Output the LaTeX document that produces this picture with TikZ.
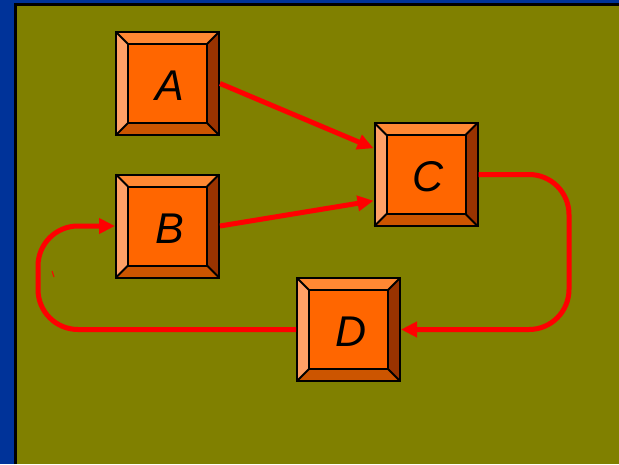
\documentclass[tikz,border=0pt]{standalone}
\usepackage{fontspec}
\setmainfont{Liberation Sans}
\usetikzlibrary{arrows.meta,calc}
\definecolor{bgblue}{HTML}{003399}
\definecolor{olivebg}{HTML}{808000}
\definecolor{keytop}{HTML}{FF8833}
\definecolor{keyleft}{HTML}{FFA066}
\definecolor{keyright}{HTML}{993300}
\definecolor{keybottom}{HTML}{CC5500}
\definecolor{keyface}{HTML}{FF6600}
\definecolor{arrowred}{HTML}{FF0000}
\tikzset{
  keybox/.style={draw=black, line width=2pt, minimum size=103pt, inner sep=0pt},
  keylabel/.style={font=\itshape\fontsize{43}{43}\selectfont, inner sep=0pt},
  bevel/.style={draw=black, line width=2pt, line join=miter},
  flow/.style={draw=arrowred, line width=5pt, rounded corners=40pt,
    -{Triangle[length=16pt,width=15pt]}},
}
\newcommand\keyboxdraw[4]{%
  \begin{scope}[shift={(#2,#3)}]
    \fill[keytop] (-51.5,-51.5) -- (51.5,-51.5) -- (39.5,-39.5) -- (-39.5,-39.5) -- cycle;
    \fill[keyleft] (-51.5,-51.5) -- (-39.5,-39.5) -- (-39.5,39.5) -- (-51.5,51.5) -- cycle;
    \fill[keyright] (51.5,-51.5) -- (51.5,51.5) -- (39.5,39.5) -- (39.5,-39.5) -- cycle;
    \fill[keybottom] (-51.5,51.5) -- (-39.5,39.5) -- (39.5,39.5) -- (51.5,51.5) -- cycle;
    \fill[keyface] (-39.5,-39.5) rectangle (39.5,39.5);
    \draw[bevel] (-39.5,-39.5) rectangle (39.5,39.5);
    \draw[bevel] (-51.5,-51.5) -- (-39.5,-39.5) (51.5,-51.5) -- (39.5,-39.5)
      (-51.5,51.5) -- (-39.5,39.5) (51.5,51.5) -- (39.5,39.5);
  \end{scope}
  \node[keybox] (#1) at (#2,#3) {};
  \node[keylabel] (#1l) at ($(#1.center)+(2.5,2.5)$) {#4};
}
\begin{document}
\begin{tikzpicture}[x=1pt,y=-1pt]
\useasboundingbox (0,0) rectangle (619,464);
\fill[bgblue] (0,0) rectangle (619,464);
\fill[olivebg] (15,4) rectangle (619,464);
\draw[black, line width=2.5pt] (15.5,464) -- (15.5,4.5) -- (619,4.5);

\keyboxdraw{A}{167.5}{83.5}{A}
\keyboxdraw{B}{167.5}{226}{B}
\keyboxdraw{C}{426}{174.5}{C}
\keyboxdraw{D}{348.5}{329.5}{D}

\draw[flow, rounded corners=0pt] (A.east) -- ($(C.north west)!0.25!(C.south west)$);
\draw[flow, rounded corners=0pt] (B.east) -- ($(C.north west)!0.75!(C.south west)$);
\coordinate (cr1) at (569,174.5);
\coordinate (cr2) at (569,329.5);
\draw[flow] (C.east) -- (cr1) -- (cr2) -- (D.east);
\coordinate (dl1) at (38,329.5);
\coordinate (dl2) at (38,226);
\draw[flow] (D.west) -- (dl1) -- (dl2) -- (B.west);
\coordinate (tick1) at (52,271);
\coordinate (tick2) at (54,277);
\draw[arrowred, line width=1pt] (tick1) -- (tick2);
\end{tikzpicture}
\end{document}
